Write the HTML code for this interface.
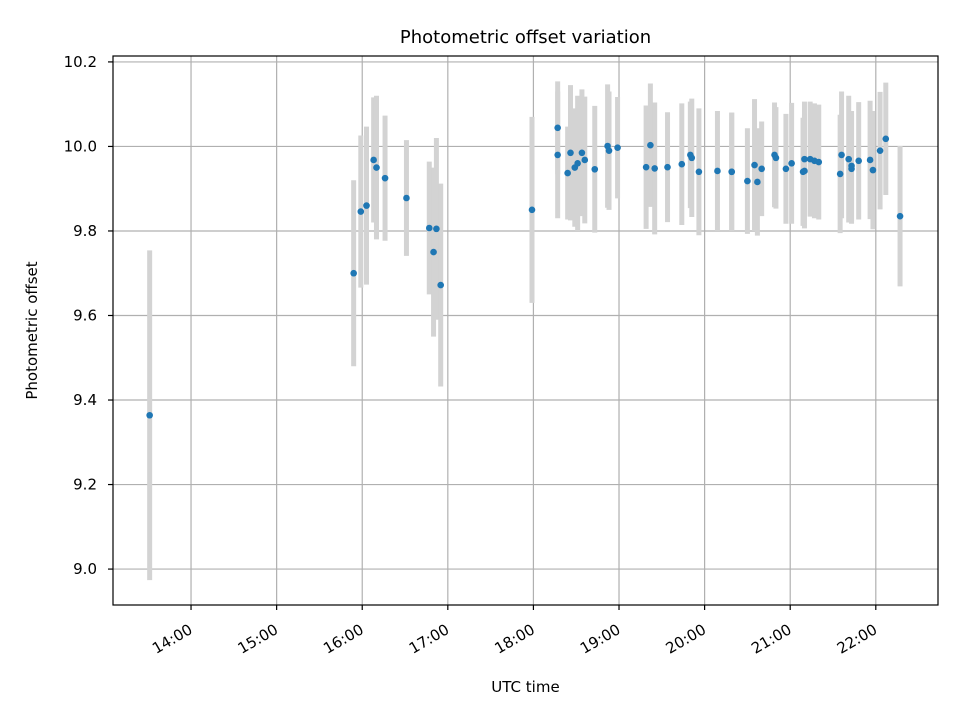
<!DOCTYPE html>
<html><head><meta charset="utf-8"><style>
body{margin:0;background:#fff;}
svg text{font-family:"DejaVu Sans","Liberation Sans",sans-serif;fill:#000;}
</style></head><body>
<svg id="chart" width="960" height="720" xmlns="http://www.w3.org/2000/svg">
<rect width="960" height="720" fill="#fff"/>
<g id="grid"></g><g id="bars"></g><g id="pts"></g><g id="axes"></g>
</svg>
<script>
const times=["13:31","15:54","15:59","16:03","16:08","16:10","16:16","16:31","16:47","16:50","16:52","16:55","17:59","18:17","18:17","18:24","18:26","18:29","18:31","18:34","18:36","18:43","18:52","18:53","18:59","19:19","19:22","19:25","19:34","19:44","19:50","19:51","19:56","20:09","20:19","20:19","20:30","20:35","20:37","20:40","20:49","20:50","20:57","21:01","21:09","21:10","21:10","21:14","21:17","21:20","21:35","21:36","21:41","21:43","21:43","21:48","21:56","21:58","22:03","22:07","22:17"];
const offsets=[9.364,9.70,9.846,9.86,9.968,9.95,9.925,9.878,9.807,9.75,9.805,9.672,9.85,10.044,9.98,9.937,9.985,9.95,9.96,9.985,9.968,9.946,10.001,9.99,9.997,9.951,10.003,9.948,9.951,9.958,9.98,9.973,9.94,9.942,9.94,9.94,9.918,9.956,9.916,9.947,9.98,9.973,9.947,9.96,9.94,9.942,9.97,9.97,9.966,9.963,9.935,9.98,9.97,9.947,9.954,9.966,9.968,9.944,9.99,10.018,9.835];
const errors=[0.39,0.22,0.18,0.187,0.148,0.17,0.148,0.137,0.157,0.2,0.215,0.24,0.22,0.11,0.15,0.11,0.16,0.14,0.16,0.15,0.15,0.15,0.146,0.14,0.12,0.146,0.146,0.156,0.13,0.144,0.126,0.14,0.15,0.142,0.14,0.14,0.125,0.156,0.127,0.112,0.124,0.12,0.13,0.143,0.128,0.136,0.136,0.136,0.136,0.136,0.14,0.15,0.15,0.13,0.13,0.139,0.14,0.14,0.139,0.133,0.166];
const yTicks=[9.0,9.2,9.4,9.6,9.8,10.0,10.2];
const xTicks=["14:00","15:00","16:00","17:00","18:00","19:00","20:00","21:00","22:00"];
const L=113,R=938,T=56,B=605;
const xMin=13+5.3/60, xMax=22+43.6/60, yMin=8.915, yMax=10.214;
const hrs=s=>{const p=s.split(":");return +p[0]+p[1]/60;};
const X=h=>L+(h-xMin)/(xMax-xMin)*(R-L);
const Y=v=>B-(v-yMin)/(yMax-yMin)*(B-T);
const NS="http://www.w3.org/2000/svg";
function mk(tag,attrs,parent){const e=document.createElementNS(NS,tag);for(const k in attrs)e.setAttribute(k,attrs[k]);document.getElementById(parent).appendChild(e);return e;}
yTicks.forEach(v=>{
  const y=Y(v);
  const l=mk('line',{x1:L,x2:R,y1:y,y2:y,stroke:'#b0b0b0','stroke-width':1.2},'grid');
  
  
  const tk=mk('line',{x1:L-5,x2:L,y1:y,y2:y,stroke:'#000','stroke-width':1.2},'axes');
  
  
  const t=mk('text',{x:L-16,y:y+5,'text-anchor':'end','font-size':15},'axes');
  t.textContent=v.toFixed(1);
  
  
});
xTicks.forEach(s=>{
  const x=X(hrs(s));
  const l=mk('line',{x1:x,x2:x,y1:T,y2:B,stroke:'#b0b0b0','stroke-width':1.2},'grid');
  
  
  const tk=mk('line',{x1:x,x2:x,y1:B,y2:B+5,stroke:'#000','stroke-width':1.2},'axes');
  
  
  const ax=x+2.5, ay=B+27.5;
  const t=mk('text',{x:ax,y:ay,'text-anchor':'end','font-size':15,transform:`rotate(-30 ${ax} ${ay})`},'axes');
  t.textContent=s;
  
  
});
times.forEach((s,i)=>{
  const x=X(hrs(s));
  const b=mk('line',{x1:x,x2:x,y1:Y(offsets[i]+errors[i]),y2:Y(offsets[i]-errors[i]),stroke:'#d3d3d3','stroke-width':5},'bars');
  
  
});
times.forEach((s,i)=>{
  const c=mk('circle',{cx:X(hrs(s)),cy:Y(offsets[i]),r:3.3,fill:'#1f77b4'},'pts');
  
  
});
const fr=mk('rect',{x:L,y:T,width:R-L,height:B-T,fill:'none',stroke:'#000','stroke-width':1.2},'axes');


const tt=mk('text',{x:(L+R)/2,y:43,'text-anchor':'middle','font-size':18},'axes');
tt.textContent='Photometric offset variation';


const xl=mk('text',{x:(L+R)/2,y:692,'text-anchor':'middle','font-size':15},'axes');
xl.textContent='UTC time';


const yl=mk('text',{x:37,y:(T+B)/2,'text-anchor':'middle','font-size':15,transform:`rotate(-90 37 ${(T+B)/2})`},'axes');
yl.textContent='Photometric offset';


</script>
</body></html>
